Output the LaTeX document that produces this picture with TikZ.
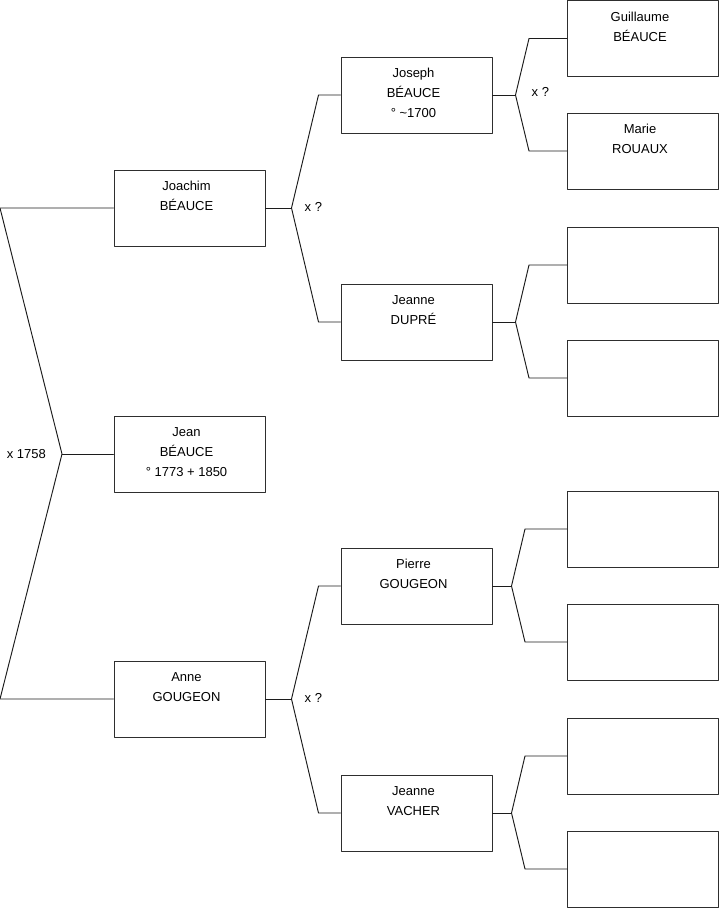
\documentclass[tikz,border=0pt]{standalone}
\usepackage{fontspec}
\setmainfont{Liberation Sans}
\usetikzlibrary{calc, positioning}
\definecolor{ink}{HTML}{1C1C1C}
\definecolor{edge}{HTML}{2E2E2E}
\tikzset{el/.style={line cap=round, line join=round},
  person/.style={draw=edge, line width=1pt, inner sep=0pt, fill=white},
  link/.style={ink, line width=0.95pt},
  wed/.style={font=\fontsize{13}{15}\selectfont, inner sep=0pt}}
\newcommand{\who}[1]{\parbox[c][76pt][t]{151pt}{\centering\rightskip=6pt plus 1fil\fontsize{13}{20}\selectfont\rule{0pt}{20.5pt}#1}}

\begin{document}
\begin{tikzpicture}[x=1pt, y=-1pt, el]
  \useasboundingbox (0,0) rectangle (719,908);
  % first and second generation
  \node[person] (jean) at (189.5,454) {\who{Jean\\BÉAUCE\\° 1773 + 1850}};
  \node[person] (joachim) at (189.5,208) {\who{Joachim\\BÉAUCE}};
  \node[person] (anne) at (189.5,699) {\who{Anne\\GOUGEON}};
  \node[person] (joseph) at (416.5,95) {\who{Joseph\\BÉAUCE\\° \textasciitilde1700}};
  \node[person] (dupre) at (416.5,322) {\who{Jeanne\\DUPRÉ}};
  \node[person] (pierre) at (416.5,586) {\who{Pierre\\GOUGEON}};
  \node[person] (vacher) at (416.5,813) {\who{Jeanne\\VACHER}};
  % last column
  \node[person] (guillaume) at (643,38.5) {\who{Guillaume\\BÉAUCE}};
  \node[person] (marie) at (643,151) {\who{Marie\\ROUAUX}};
  \foreach \n/\y in {dupreF/265, dupreM/378, pierreF/529, pierreM/642, vacherF/756, vacherM/869}
    \node[person] (\n) at (643,\y) {\who{}};
  % links
  \coordinate (jean-f) at (62,454);
  \coordinate (jean-t) at (0,208);
  \coordinate (jean-b) at (0,699);
  \draw[link] (jean.west) -- (jean-f);
  \draw[link] (joachim.west) -- (jean-t) -- (jean-f) -- (jean-b) -- (anne.west);
  \foreach \p/\a/\b/\d/\e in {joachim/joseph/dupre/26/22, anne/pierre/vacher/26/22,
      joseph/guillaume/marie/23/38, dupre/dupreF/dupreM/23/38,
      pierre/pierreF/pierreM/19/42, vacher/vacherF/vacherM/19/42}{
    \coordinate (\p-f) at ($(\p.east)+(\d,0)$);
    \draw[link] (\p.east) -- (\p-f);
    \draw[link] (\p-f) -- ($(\a.west)-(\e,0)$) -- (\a.west);
    \draw[link] (\p-f) -- ($(\b.west)-(\e,0)$) -- (\b.west);}
  \node[wed, left=16pt of jean-f] (xjean) {x 1758};
  \node[wed, right=13pt of joachim-f, yshift=1pt] (xjoachim) {x ?};
  \node[wed, right=13pt of anne-f, yshift=1pt] (xanne) {x ?};
  \node[wed, right=16pt of joseph-f, yshift=3pt] (xjoseph) {x ?};
\end{tikzpicture}
\end{document}
